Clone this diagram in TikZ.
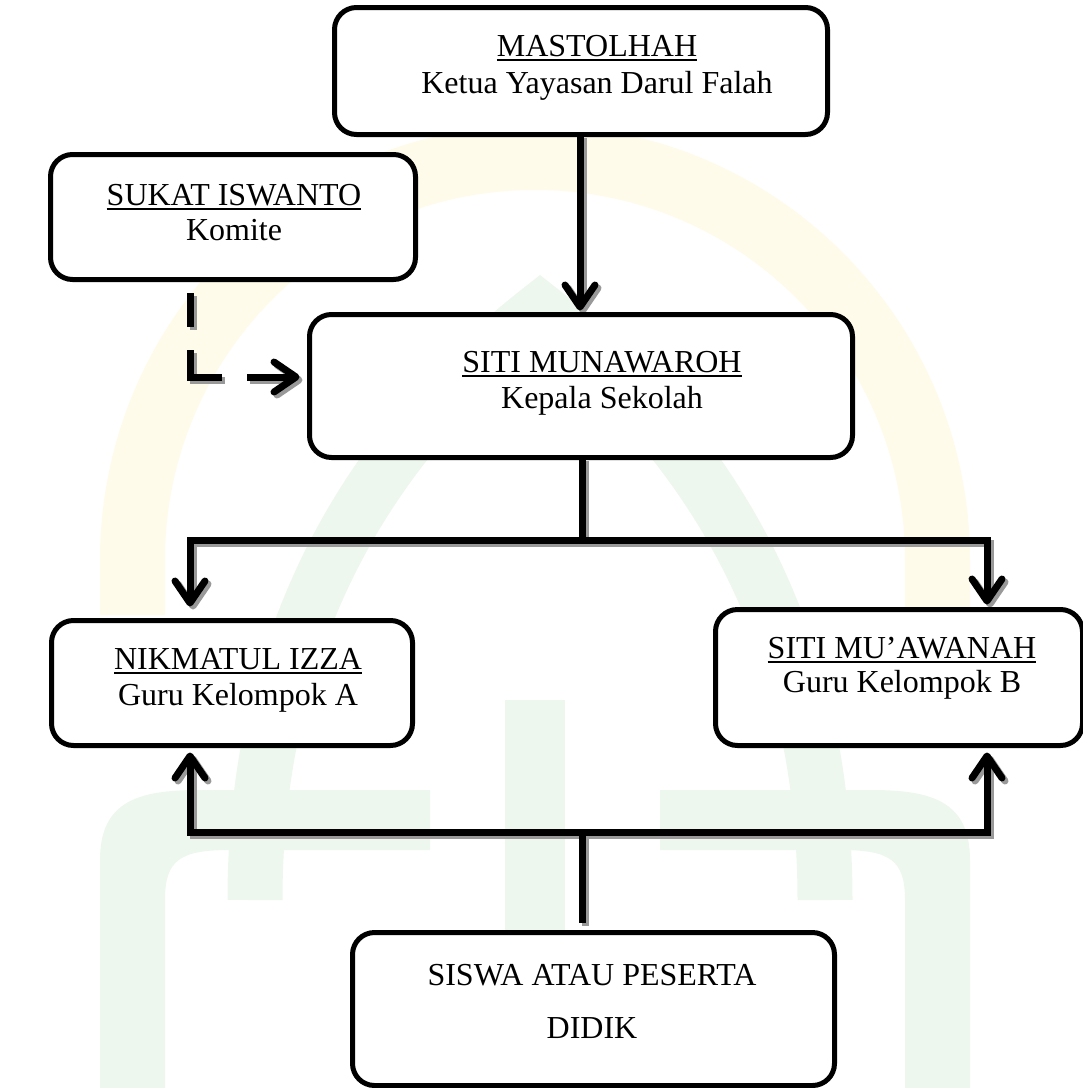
\documentclass[tikz,border=0pt]{standalone}
\usepackage{fontspec}
\setmainfont{Liberation Serif}
\usetikzlibrary{arrows.meta}
\definecolor{wmyellow}{RGB}{255,251,234}
\definecolor{wmgreen}{RGB}{238,247,238}
\newcommand{\myul}[1]{\setbox0\hbox{#1}\rlap{\rule[-5pt]{\wd0}{2pt}}\box0}
\newcommand{\myconns}[1]{%
  \draw[conn,#1,-{Straight Barb[length=22pt,width=30pt,round]}] (mx |- mast.south) -- ([yshift=4pt]mx |- siti.north);
  \draw[conn,#1,dash pattern=on 34pt off 23pt on 59pt off 25pt on 80pt,
        -{Straight Barb[length=22pt,width=30pt,round]}] (d0) -- (d1) -- ([xshift=-10pt]d1 -| siti.west);
  \draw[conn,#1] (bx |- siti.south) -- (tm);
  \draw[conn,#1,-{Straight Barb[length=22pt,width=30pt,round]}] (tm) -| ([yshift=14pt]tl |- nik.north);
  \draw[conn,#1,-{Straight Barb[length=22pt,width=30pt,round]}] (tm) -| ([yshift=5pt]tr |- muaw.north);
  \draw[conn,#1] ([yshift=10pt]bx |- siswa.north) -- (bm);
  \draw[conn,#1,-{Straight Barb[length=22pt,width=30pt,round]}] (bm) -| ([yshift=-7pt]tl |- nik.south);
  \draw[conn,#1,-{Straight Barb[length=22pt,width=30pt,round]}] (bm) -| ([yshift=-7pt]tr |- muaw.south);
}
\begin{document}
\begin{tikzpicture}[x=1pt,y=-1pt,
  box/.style={draw=black, line width=5pt, rounded corners=22pt, fill=white, inner sep=0pt},
  txt/.style={anchor=base, inner sep=0pt, font=\fontsize{32}{36}\selectfont},
  conn/.style={line width=7pt}]
\useasboundingbox[fill=white] (0,0) rectangle (1083,1088);
% faint background watermark
\fill[wmyellow] (100,615) -- (100,560) arc[start angle=180,end angle=360,radius=435]
   -- (970,615) -- (905,615) -- (905,560) arc[start angle=0,end angle=-180,radius=370]
   -- (165,615) -- cycle;
\draw[wmgreen, line width=55pt] (255,900) .. controls (255,600) and (400,420) .. (540,310)
   .. controls (680,420) and (825,600) .. (825,900);
\fill[wmgreen] (100,1088) -- (100,860) .. controls (100,800) and (140,790) .. (200,790)
   -- (430,790) -- (430,850) -- (230,850) .. controls (180,850) and (165,860) .. (165,900) -- (165,1088) -- cycle;
\fill[wmgreen] (970,1088) -- (970,860) .. controls (970,800) and (930,790) .. (870,790)
   -- (660,790) -- (660,850) -- (840,850) .. controls (890,850) and (905,860) .. (905,900) -- (905,1088) -- cycle;
\fill[wmgreen] (505,700) rectangle (565,1088);
% nodes (boxes)
\node[box, minimum width=488pt, minimum height=122pt] (mast)  at (581,71)   {};
\node[box, minimum width=360pt, minimum height=120pt] (sukat) at (233,217)  {};
\node[box, minimum width=538pt, minimum height=138pt] (siti)  at (581,386)  {};
\node[box, minimum width=356pt, minimum height=120pt] (nik)   at (232,683)  {};
\node[box, minimum width=362pt, minimum height=131pt] (muaw)  at (899,677.5){};
\node[box, minimum width=477pt, minimum height=148pt] (siswa) at (593.5,1009){};
% coordinates for connectors
\coordinate (mx) at (580,0);
\coordinate (bx) at (582,0);
\coordinate (d0) at (190,293);
\coordinate (d1) at (190,377);
\coordinate (tl) at (190,0);
\coordinate (tr) at (987,0);
\coordinate (tm) at (582,540);
\coordinate (bm) at (582,832);
% connectors with shadow
\begin{scope}[transform canvas={shift={(3pt,-3pt)}}]
  \myconns{draw=black!40}
\end{scope}
\myconns{draw=black}
% boxes on top of the connector ends
\foreach \n in {mast,sukat,siti,nik,muaw,siswa}{
  \draw[line width=5pt, rounded corners=22pt, fill=white] (\n.north west) rectangle (\n.south east);
}
% texts
\node[txt] (mast1) at (597,56) {\myul{MASTOLHAH}};
\node[txt] (mast2) at (597,93) {Ketua Yayasan Darul Falah};
\node[txt] (sukat1) at (234,205) {\myul{SUKAT ISWANTO}};
\node[txt] (sukat2) at (234,240) {Komite};
\node[txt] (siti1) at (602,372) {\myul{SITI MUNAWAROH}};
\node[txt] (siti2) at (602,408) {Kepala Sekolah};
\node[txt] (nik1) at (238,669) {\myul{NIKMATUL IZZA}};
\node[txt] (nik2) at (238,705) {Guru Kelompok A};
\node[txt] (muaw1) at (902,658) {\myul{SITI MU’AWANAH}};
\node[txt] (muaw2) at (902,692) {Guru Kelompok B};
\node[txt] (siswa1) at (592,985) {SISWA ATAU PESERTA};
\node[txt] (siswa2) at (592,1038) {DIDIK};
\end{tikzpicture}
\end{document}
